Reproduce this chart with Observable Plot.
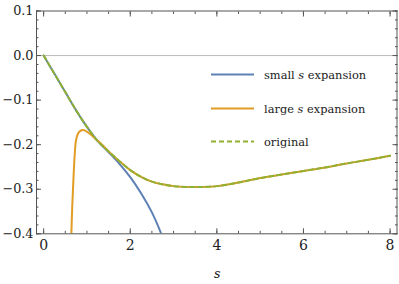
<!DOCTYPE html>
<html><head><meta charset="utf-8">
<script src="https://cdn.jsdelivr.net/npm/d3@7"></script>
<script src="https://cdn.jsdelivr.net/npm/@observablehq/plot@0.6"></script>
<style>
html,body{margin:0;padding:0;background:#fff;}
#wrap{position:relative;width:399px;height:284px;overflow:hidden;}
.leg{position:absolute;height:20px;font-family:"DejaVu Serif",serif;font-size:11.4px;color:#222;white-space:nowrap;}
.leg svg{position:absolute;left:0;top:0;}
.leg span{position:absolute;left:54px;top:0;line-height:20px;}
#xlab{position:absolute;font-family:"DejaVu Serif",serif;font-size:12.5px;font-style:italic;color:#222;}
</style></head><body><div id="wrap"></div>
<script>
// original curve
const sOriginal = [0, 0.25, 0.5, 0.75, 1.0, 1.25, 1.5, 1.75, 2.0, 2.25, 2.5, 2.75, 3.0, 3.5, 4.0, 4.5, 5.0, 5.5, 6.0, 6.5, 7.0, 7.5, 8.0];
const vOriginal = [0, -0.041, -0.082, -0.123, -0.160, -0.192, -0.215, -0.237, -0.257, -0.272, -0.283, -0.289, -0.293, -0.295, -0.293, -0.285, -0.275, -0.267, -0.259, -0.251, -0.242, -0.234, -0.225];
// small s expansion
const sSmall = [0, 0.25, 0.5, 0.75, 1.0, 1.25, 1.5, 1.75, 2.0, 2.25, 2.5, 2.7, 2.85];
const vSmall = [0, -0.041, -0.082, -0.123, -0.160, -0.192, -0.217, -0.243, -0.273, -0.309, -0.352, -0.396, -0.434];
// large s expansion
const sLarge = [0.62, 0.64, 0.66, 0.68, 0.70, 0.72, 0.74, 0.77, 0.80, 0.85, 0.90, 0.95, 1.0, 1.1, 1.2, 1.35, 1.5, 1.75, 2.0, 2.25, 2.5, 2.75, 3.0, 3.5, 4.0, 4.5, 5.0, 5.5, 6.0, 6.5, 7.0, 7.5, 8.0];
const vLarge = [-0.46, -0.40, -0.34, -0.295, -0.252, -0.218, -0.195, -0.181, -0.174, -0.169, -0.167, -0.168, -0.171, -0.178, -0.187, -0.200, -0.215, -0.237, -0.257, -0.272, -0.283, -0.289, -0.293, -0.295, -0.293, -0.285, -0.275, -0.267, -0.259, -0.251, -0.242, -0.234, -0.225];

const seriesNames = ["small s expansion", "large s expansion", "original"];
const seriesColors = ["#5E81B5", "#E19C24", "#8FB032"];

const xMajorTicks = [0, 2, 4, 6, 8];
const xTickLabels = ["0", "2", "4", "6", "8"];
const xMinorTicks = [0, 0.5, 1, 1.5, 2, 2.5, 3, 3.5, 4, 4.5, 5, 5.5, 6, 6.5, 7, 7.5, 8];
const yMajorTicks = [0.1, 0.0, -0.1, -0.2, -0.3, -0.4];
const yTickLabels = ["0.1", "0.0", "\u22120.1", "\u22120.2", "\u22120.3", "\u22120.4"];
const yMinorTicks = d3.range(-20, 6).map(i => i / 50);
const xLabel = "s";

const toRows = (xs, ys) => xs.map((s, i) => ({s, v: ys[i]}));
const smallData = toRows(sSmall, vSmall);
const largeData = toRows(sLarge, vLarge);
const origData = toRows(sOriginal, vOriginal);

const frameColor = "#555";
const textColor = "#222";
const serif = "DejaVu Serif";

const lineOpts = (c, extra = {}) => ({x: "s", y: "v", stroke: c, strokeWidth: 2, curve: "catmull-rom", clip: true, ...extra});

const chart = Plot.plot({
  width: 399, height: 284,
  marginLeft: 36, marginRight: 2.5, marginTop: 10.5, marginBottom: 50.7,
  x: {domain: [-0.165, 8.16]},
  y: {domain: [-0.4, 0.1]},
  style: {fontFamily: serif, background: "white", color: textColor},
  marks: [
    Plot.ruleY([0], {stroke: "#bbb", strokeWidth: 1}),
    Plot.line(smallData, lineOpts(seriesColors[0])),
    Plot.line(largeData, lineOpts(seriesColors[1])),
    Plot.line(origData, lineOpts(seriesColors[2], {strokeDasharray: "5,3"})),
    Plot.frame({stroke: frameColor, strokeWidth: 1}),
    // inward ticks on all four sides
    Plot.axisX({anchor: "bottom", ticks: xMinorTicks, tickSize: -2.5, fill: "none", stroke: frameColor, label: null}),
    Plot.axisX({anchor: "bottom", ticks: xMajorTicks, tickSize: -5, fill: "none", stroke: frameColor, label: null}),
    Plot.axisX({anchor: "top", ticks: xMinorTicks, tickSize: -2.5, fill: "none", stroke: frameColor, label: null}),
    Plot.axisX({anchor: "top", ticks: xMajorTicks, tickSize: -5, fill: "none", stroke: frameColor, label: null}),
    Plot.axisY({anchor: "left", ticks: yMinorTicks, tickSize: -2.5, fill: "none", stroke: frameColor, label: null}),
    Plot.axisY({anchor: "left", ticks: yMajorTicks, tickSize: -5, fill: "none", stroke: frameColor, label: null}),
    Plot.axisY({anchor: "right", ticks: yMinorTicks, tickSize: -2.5, fill: "none", stroke: frameColor, label: null}),
    Plot.axisY({anchor: "right", ticks: yMajorTicks, tickSize: -5, fill: "none", stroke: frameColor, label: null}),
    // tick labels
    Plot.axisX({anchor: "bottom", ticks: xMajorTicks, tickSize: 0, tickPadding: 6, fontSize: 14, fill: textColor, fontFamily: serif,
      tickFormat: d => xTickLabels[xMajorTicks.indexOf(d)], label: null}),
    Plot.axisY({anchor: "left", ticks: yMajorTicks, tickSize: 0, tickPadding: 3, fontSize: 12.8, fill: textColor, fontFamily: serif,
      tickFormat: d => yTickLabels[yMajorTicks.findIndex(t => Math.abs(t - d) < 1e-9)], label: null})
  ]
});

const wrap = document.getElementById("wrap");
wrap.appendChild(chart);

// legend (inside plot area)
const legTop = [64.5, 98.5, 132];
seriesNames.forEach((name, i) => {
  const row = document.createElement("div");
  row.className = "leg";
  row.style.left = "210px";
  row.style.top = legTop[i] + "px";
  const dash = i === 2 ? ' stroke-dasharray="5,3"' : '';
  row.innerHTML = `<svg width="46" height="20"><line x1="1" x2="44" y1="9.5" y2="9.5" stroke="${seriesColors[i]}" stroke-width="2"${dash}/></svg>`;
  const span = document.createElement("span");
  const parts = name.split(" s ");
  if (parts.length === 2) {
    span.innerHTML = `${parts[0]} <i>s</i> ${parts[1]}`;
  } else span.textContent = name;
  row.appendChild(span);
  wrap.appendChild(row);
});

const xl = document.createElement("div");
xl.id = "xlab";
xl.textContent = xLabel;
xl.style.left = "214px";
xl.style.top = "266px";
wrap.appendChild(xl);
</script>
</body></html>
